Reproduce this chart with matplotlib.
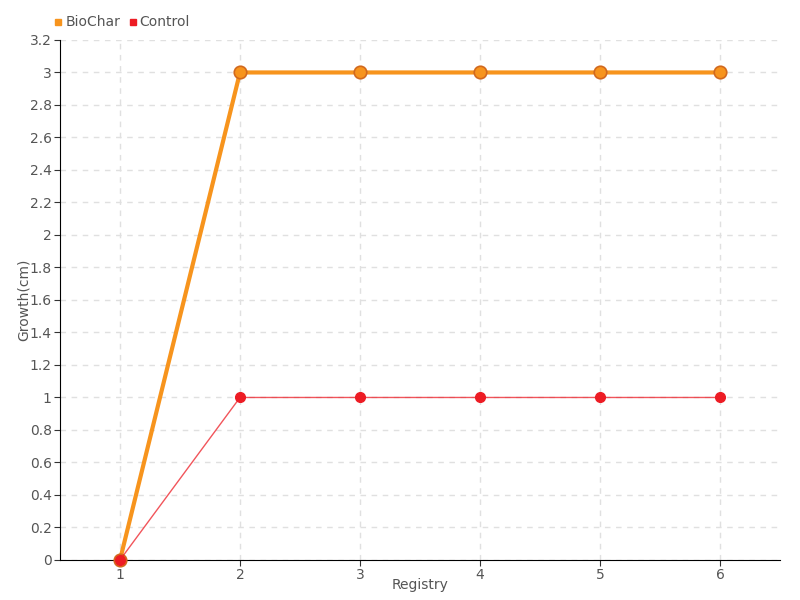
import matplotlib
matplotlib.use('Agg')
import matplotlib.pyplot as plt
from matplotlib.lines import Line2D

plt.rcParams['font.family'] = ['Liberation Sans Narrow', 'DejaVu Sans']

registry = [1, 2, 3, 4, 5, 6]
biochar = [0, 3, 3, 3, 3, 3]
control = [0, 1, 1, 1, 1, 1]
yticks = [0, 0.2, 0.4, 0.6, 0.8, 1, 1.2, 1.4, 1.6, 1.8, 2, 2.2, 2.4, 2.6, 2.8, 3, 3.2]

ORANGE = '#F7941D'
RED = '#ED1C24'
TEXT = '#555555'

fig = plt.figure(figsize=(8, 6), dpi=100)
ax = fig.add_axes([0.075, 0.0667, 0.9, 0.8667])

ax.plot(registry, biochar, color=ORANGE, lw=3, marker='o', ms=9,
        mfc=ORANGE, mec='#D2691E', mew=1.2, zorder=3, clip_on=False)
# red line is drawn faint, its points solid
ax.plot(registry, control, color=RED, lw=1, alpha=0.75, zorder=4)
ax.plot(registry, control, ls='none', marker='o', ms=7,
        mfc=RED, mec=RED, zorder=5, clip_on=False)

ax.set_xlim(0.5, 6.5)
ax.set_ylim(0, 3.2)
ax.set_xticks(registry)
ax.set_yticks(yticks)
ax.set_yticklabels(['{:g}'.format(v) for v in yticks])
ax.grid(True, color='#e0e0e0', ls=(0, (4, 4)), lw=1)
ax.set_axisbelow(True)
for s in ['top', 'right']:
    ax.spines[s].set_visible(False)
ax.tick_params(colors='#333333', labelcolor=TEXT, labelsize=10, length=4, pad=2)
ax.set_xlabel('Registry', color=TEXT, fontsize=10, labelpad=-3)
ax.set_ylabel('Growth(cm)', color=TEXT, fontsize=10)
ax.yaxis.set_label_coords(-0.04, 0.5)

handles = [Line2D([], [], ls='none', marker='s', ms=5, color=ORANGE),
           Line2D([], [], ls='none', marker='s', ms=5, color=RED)]
fig.legend(handles, ['BioChar', 'Control'], loc='upper left',
           bbox_to_anchor=(0.052, 0.995), ncol=2, frameon=False,
           fontsize=10, handlelength=0.6, handletextpad=0.2,
           columnspacing=0.6, labelcolor=TEXT)

plt.savefig('out.png')
